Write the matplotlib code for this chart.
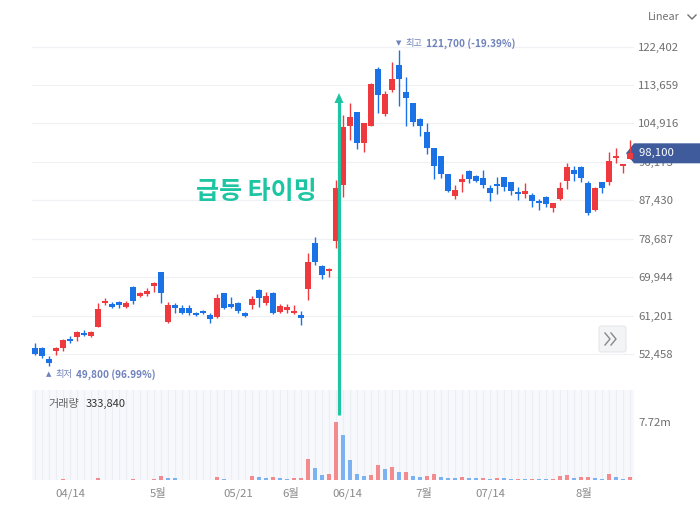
import matplotlib
matplotlib.use('Agg')
import matplotlib.pyplot as plt
from matplotlib.patches import Polygon, FancyBboxPatch
from matplotlib.lines import Line2D
import numpy as np

plt.rcParams['font.family'] = ['Noto Sans CJK KR', 'DejaVu Sans']

# ---------------- data ----------------
opens = [53900, 53700, 51400, 53200, 53900, 55900, 56400, 57300, 56600, 58700,
         64100, 63900, 64300, 63200, 67700, 65700, 66100, 67900, 71100, 59700,
         63500, 62900, 62900, 61800, 62300, 61400, 60900, 66400, 63900, 64100,
         61800, 63500, 67000, 64100, 66400, 62000, 62500, 61800, 61400, 67300,
         77700, 72400, 71300, 78100, 90800, 104400, 107600, 100500, 104400, 117300,
         107100, 112600, 118200, 112100, 109600, 105900, 103000, 99400, 97600, 93500,
         88500, 91500, 94000, 92900, 92400, 90100, 91200, 92600, 91500, 89200,
         88900, 88600, 87200, 88100, 85600, 87800, 91900, 94200, 95100, 91300,
         85100, 91500, 91500, 97000, 95300, 96900]
highs = [55000, 54100, 52100, 54100, 55900, 56600, 57700, 58000, 57700, 64100,
         65200, 64300, 64500, 64500, 67900, 66600, 67500, 68800, 71100, 64300,
         64100, 63500, 63500, 62100, 62500, 61800, 66100, 66400, 65400, 64300,
         62000, 65700, 67200, 66600, 66600, 63900, 63900, 63500, 62300, 75400,
         79000, 72700, 72000, 92000, 106900, 109600, 107600, 105100, 114000, 117800,
         112300, 118900, 121700, 115500, 109600, 106200, 104900, 99400, 97600, 93500,
         91000, 93500, 94400, 93100, 94400, 90800, 92600, 92600, 91500, 90400,
         91300, 89000, 87800, 88300, 86900, 91500, 96000, 95300, 95300, 91900,
         90400, 91500, 98400, 99200, 95700, 101200]
lows = [52300, 51600, 49800, 52300, 53200, 55000, 55500, 56600, 56400, 58500,
        63600, 62900, 62900, 62900, 63900, 65400, 65700, 66600, 64100, 59500,
        61800, 61600, 61400, 61200, 61600, 59500, 60700, 62700, 62900, 61800,
        60900, 62700, 63200, 63600, 61600, 61800, 61800, 61600, 59000, 64800,
        72700, 69500, 70000, 76600, 88100, 101200, 99000, 98300, 104400, 107300,
        106600, 112100, 108900, 104400, 104400, 102100, 98000, 92200, 92400, 89200,
        87600, 89200, 91300, 91500, 90100, 87200, 88800, 89600, 88600, 87400,
        88000, 85800, 85100, 85800, 84700, 87400, 89900, 91900, 91500, 84000,
        84900, 89000, 91000, 95800, 93700, 96700]
closes = [52500, 51900, 50300, 53900, 55700, 55500, 57500, 56800, 57500, 62700,
          64500, 63200, 63500, 64100, 64500, 66400, 66800, 68600, 66400, 63500,
          62900, 61800, 61800, 61400, 61800, 60300, 65200, 62900, 63200, 62300,
          61100, 65000, 65200, 65700, 61800, 63300, 63200, 62300, 60700, 73400,
          73400, 70400, 71800, 90100, 104200, 106400, 100500, 105100, 113900, 111400,
          111600, 115000, 115100, 110700, 105300, 104400, 99400, 95300, 93500, 89600,
          89700, 92200, 92200, 91700, 91000, 89000, 90600, 90400, 89500, 88800,
          89500, 87200, 86700, 86500, 86700, 90100, 95100, 93500, 92400, 84500,
          90100, 90100, 96300, 97400, 95700, 98100]
volumes_m = [0.05, 0.04, 0.06, 0.05, 0.07, 0.04, 0.05, 0.04, 0.06, 0.31,
             0.06, 0.05, 0.04, 0.06, 0.17, 0.05, 0.06, 0.07, 0.53, 0.30,
             0.22, 0.06, 0.05, 0.04, 0.05, 0.06, 0.44, 0.18, 0.05, 0.06,
             0.05, 0.53, 0.40, 0.31, 0.40, 0.22, 0.18, 0.22, 0.31, 2.80,
             1.55, 0.67, 0.80, 7.72, 6.00, 2.70, 0.80, 0.53, 0.71, 2.00,
             1.50, 1.65, 1.00, 1.10, 0.53, 0.44, 0.53, 0.80, 0.40, 0.31,
             0.30, 0.40, 0.27, 0.22, 0.24, 0.18, 0.22, 0.20, 0.16, 0.18,
             0.14, 0.16, 0.12, 0.10, 0.14, 0.53, 0.67, 0.27, 0.40, 0.42,
             0.27, 0.10, 0.84, 0.44, 0.18, 0.34]
price_ticks = [52458, 61201, 69944, 78687, 87430, 96173, 104916, 113659, 122402]
volume_tick = 7.72
date_positions = [5.1, 17.6, 29.0, 36.5, 44.6, 55.6, 65.1, 78.4]
date_labels = ['04/14', '5월', '05/21', '6월', '06/14', '7월', '07/14', '8월']
last_price = 98100
high_value, high_pct = 121700, '-19.39%'
low_value, low_pct = 49800, '96.99%'
current_volume = 333840
headline = '급등 타이밍'
scale_mode = 'Linear'

# ---------------- figure ----------------
W, H = 700, 509
fig = plt.figure(figsize=(W / 100, H / 100), dpi=100)
fig.patch.set_facecolor('white')


def fx(x):
    return x / W


def fy(y):
    return 1 - y / H


X0, X1 = 31.5, 633.5
ax = fig.add_axes([fx(X0), fy(390), (X1 - X0) / W, (390 - 28) / H])
axv = fig.add_axes([fx(X0), fy(480), (X1 - X0) / W, 90 / H])

o = np.array(opens, float)
h = np.array(highs, float)
l = np.array(lows, float)
c = np.array(closes, float)
v = np.array(volumes_m, float)
n = len(o)
idx = np.arange(n)

RED, BLUE = '#ee3a3f', '#1b72e6'
colors = np.where(c >= o, RED, BLUE)
ax.vlines(idx, l, h, colors=colors, lw=1.0, zorder=3)
ax.bar(idx, np.maximum(np.abs(c - o), 250), bottom=np.minimum(o, c), width=0.72,
       color=colors, linewidth=0, zorder=4)

ax.set_xlim(-0.5, n - 0.5)
ax.set_ylim(44256, 126611)
ax.set_yticks(price_ticks)
ax.set_yticklabels([f'{t:,}' for t in price_ticks])
ax.yaxis.tick_right()
ax.tick_params(axis='y', length=0, pad=3.5, labelsize=8.2, labelcolor='#6f6f6f')
ax.set_xticks([])
for s in ax.spines.values():
    s.set_visible(False)
ax.grid(axis='y', color='#f0f1f4', lw=0.9)
ax.set_axisbelow(True)

# annotations: high / low
ANN = '#6f82bb'
hi_i, lo_i = int(np.argmax(h)), int(np.argmin(l))
for (xi, val, dy, tri, word, pct) in [(hi_i, high_value, 6, '▼', '최고', high_pct),
                                       (lo_i, low_value, -9, '▲', '최저', low_pct)]:
    ax.annotate(tri, xy=(xi, val), xytext=(-3, dy), textcoords='offset pixels',
                ha='left', va='center', fontsize=5, color=ANN, annotation_clip=False,
                family=['DejaVu Sans'])
    ax.annotate(word, xy=(xi, val), xytext=(6, dy), textcoords='offset pixels',
                ha='left', va='center', fontsize=6.6, color=ANN, annotation_clip=False)
    ax.annotate(f'{val:,} ({pct})', xy=(xi, val), xytext=(27, dy),
                textcoords='offset pixels', ha='left', va='center', fontsize=7.2,
                fontweight='bold', color=ANN, annotation_clip=False)

# last price tag (under the candles, above the tick labels)
ly = 46.5 + (122402 - last_price) / 227.5
tag = Polygon([(fx(626), fy(ly)), (fx(634), fy(ly - 10)), (fx(700), fy(ly - 10)),
               (fx(700), fy(ly + 10)), (fx(634), fy(ly + 10))],
              closed=True, transform=fig.transFigure, facecolor='#3f5b9c',
              edgecolor='none', zorder=2, clip_on=False)
ax.add_artist(tag)
ax.text(1.0, last_price, f'  {last_price:,}', transform=ax.get_yaxis_transform(),
        fontsize=8.2, color='white', ha='left', va='center', zorder=2.5, clip_on=False)

# ---------------- volume ----------------
vcol = [RED if i == 0 or v[i] >= v[i - 1] else BLUE for i in range(n)]
vcol = ['#f38a8e' if cc == RED else '#7cb1f2' for cc in vcol]
axv.set_facecolor('#f7f8fb')
for i in idx:
    axv.axvline(i, color='#eceef3', lw=0.8, zorder=0)
axv.bar(idx, v, width=0.68, color=vcol, linewidth=0, zorder=2)
axv.set_xlim(-0.5, n - 0.5)
axv.set_ylim(0, volume_tick * 90 / 58.5)
axv.set_yticks([volume_tick])
axv.set_yticklabels([f'{volume_tick}m'])
axv.yaxis.tick_right()
axv.tick_params(axis='y', length=0, pad=3.5, labelsize=8.2, labelcolor='#6f6f6f')
axv.set_xticks(date_positions)
axv.set_xticklabels(date_labels)
axv.tick_params(axis='x', length=0, pad=6, labelsize=8.2, labelcolor='#8a8a8a')
for s in axv.spines.values():
    s.set_visible(False)

fig.text(fx(48), fy(404), '거래량', fontsize=8, color='#666666', ha='left', va='center')
fig.text(fx(86), fy(404), f'{current_volume:,}', fontsize=8, color='#333333',
         ha='left', va='center')

# ---------------- decorations ----------------
fig.text(fx(648), fy(17), scale_mode, fontsize=7.8, color='#707070', ha='left', va='center')
fig.lines.append(Line2D([fx(688), fx(692), fx(696)], [fy(15), fy(19), fy(15)],
                        transform=fig.transFigure, color='#707070', lw=1.0))

TEAL = '#1ec5a3'
fig.text(fx(256.5), fy(192), headline, fontsize=18, fontweight='bold', color=TEAL,
         ha='center', va='center')
fig.lines.append(Line2D([fx(339), fx(339)], [fy(415), fy(101)],
                        transform=fig.transFigure, color=TEAL, lw=2.3,
                        solid_capstyle='butt', zorder=7))
fig.patches.append(Polygon([(fx(334.5), fy(103)), (fx(343.5), fy(103)), (fx(339), fy(93))],
                           closed=True, transform=fig.transFigure, facecolor=TEAL,
                           edgecolor='none', zorder=7))

btn = FancyBboxPatch((fx(599), fy(352)), fx(626) - fx(599), fy(326) - fy(352),
                     boxstyle='round,pad=0,rounding_size=0.004',
                     transform=fig.transFigure, facecolor='#f3f4f6', edgecolor='#e6e7ea',
                     lw=0.8, zorder=5)
fig.patches.append(btn)
for dx in (0, 6):
    fig.lines.append(Line2D([fx(605 + dx), fx(610 + dx), fx(605 + dx)],
                            [fy(333), fy(339), fy(345)], transform=fig.transFigure,
                            color='#888888', lw=1.0, zorder=6))

fig.savefig('out.png', dpi=100)
